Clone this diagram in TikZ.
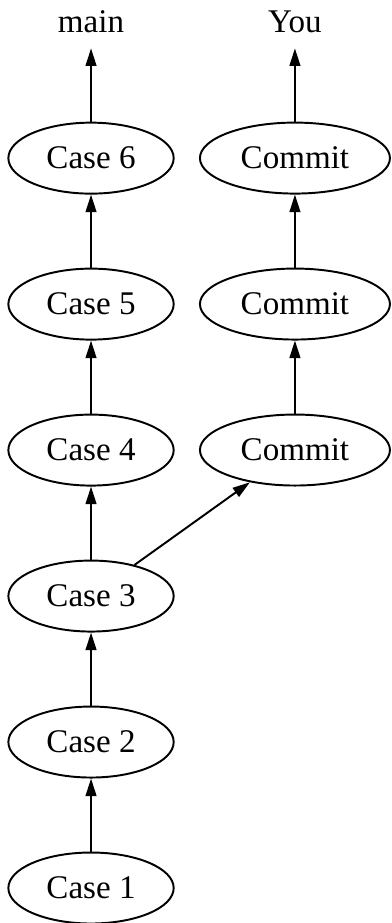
\documentclass[tikz,border=0pt]{standalone}
\usepackage{fontspec}
\setmainfont{Liberation Serif}
\usetikzlibrary{arrows.meta,shapes.geometric}

\begin{document}
\begin{tikzpicture}[
  case/.style   = {draw, ellipse, line width=1pt, inner sep=0pt,
                   minimum width=85pt, minimum height=36.5pt,
                   font=\fontsize{17}{20}\selectfont},
  commit/.style = {case, minimum width=97.7pt},
  lbl/.style    = {inner xsep=0pt, inner ysep=8pt, anchor=base,
                   font=\fontsize{17}{20}\selectfont},
  arr/.style    = {-{Triangle[length=9pt,width=5.5pt]}, line width=1pt}
]
  \useasboundingbox (0,0) rectangle (7.066,16.68);

  \foreach \i in {1,...,6}{
    \node[case] (c\i) at (1.645, {0.632+(\i-1)*2.638}) {Case \i};
  }
  \foreach \i in {1,2,3}{
    \node[commit] (m\i) at (5.33, {8.547+(\i-1)*2.638}) {Commit};
  }

  \node[lbl] (main) at (1.645, 16.10) {main};
  \node[lbl] (you)  at (5.33, 16.10) {You};

  \foreach \a/\b in {c1/c2,c2/c3,c3/c4,c4/c5,c5/c6,c6/main,
                     c3/m1,m1/m2,m2/m3,m3/you}{
    \draw[arr] (\a) -- (\b);
  }
\end{tikzpicture}
\end{document}
